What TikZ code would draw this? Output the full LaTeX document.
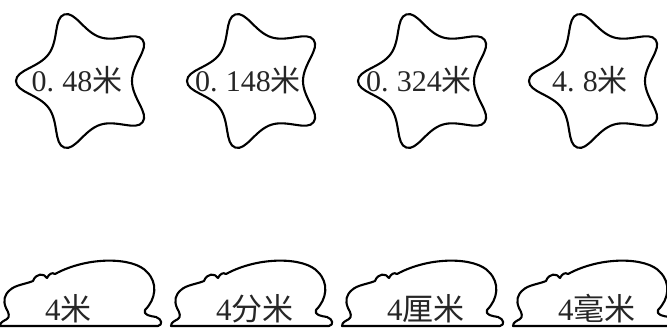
\documentclass[tikz,border=0pt]{standalone}
\usepackage{fontspec}
\setmainfont{Liberation Serif}
\newfontfamily\cjk{Noto Sans CJK SC}
\usetikzlibrary{positioning}

\begin{document}
\begin{tikzpicture}[
    x=1pt, y=1pt,
    outline/.style={line width=2.1pt, line join=round},
    lbl/.style={inner sep=0pt, text=black!85, font=\fontsize{30}{36}\selectfont},
    cloudlbl/.style={lbl, font=\fontsize{31}{36}\selectfont},
]
    \useasboundingbox (0,0) rectangle (667,330);

    % Stars
    \foreach \i/\txt in {0/{0.\;48{\cjk 米}}, 1/{0.\;148{\cjk 米}}, 2/{0.\;324{\cjk 米}}, 3/{4.\;8{\cjk 米}}} {
        \draw[outline, shift={(86+171*\i,249)}]
            plot[smooth cycle, tension=0.75, samples at={0,...,9}, variable=\k]
            ({180+36*\k}:{ifthenelse(mod(\k,2)==0,70,46)});
        \node[lbl, anchor=base] (star\i) at (77+171*\i,238) {\txt};
    }

    % Clouds
    \foreach \i/\txt in {0/{4{\cjk 米}}, 1/{4{\cjk 分米}}, 2/{4{\cjk 厘米}}, 3/{4{\cjk 毫米}}} {
        \draw[outline, shift={(171*\i,3)}] (0,1) -- (158,1)
            .. controls (163,2) and (162,8) .. (156,10)
            .. controls (150,11) and (143,12) .. (145,17)
            .. controls (156,28) and (158,44) .. (147,55)
            .. controls (134,70) and (88,71) .. (55,53)
            .. controls (52,55) and (49,53) .. (47,49)
            .. controls (44,54) and (36,54) .. (33,46)
            .. controls (26,43) and (15,42) .. (10,37)
            .. controls (4,32) and (3,26) .. (6,19)
            .. controls (9,14) and (10,10) .. (7,8)
            .. controls (4,6) and (0,5) .. (0,1) -- cycle;
        \node[cloudlbl, anchor=base west] (cloud\i) at (45+171*\i,10) {\txt};
    }
\end{tikzpicture}
\end{document}
